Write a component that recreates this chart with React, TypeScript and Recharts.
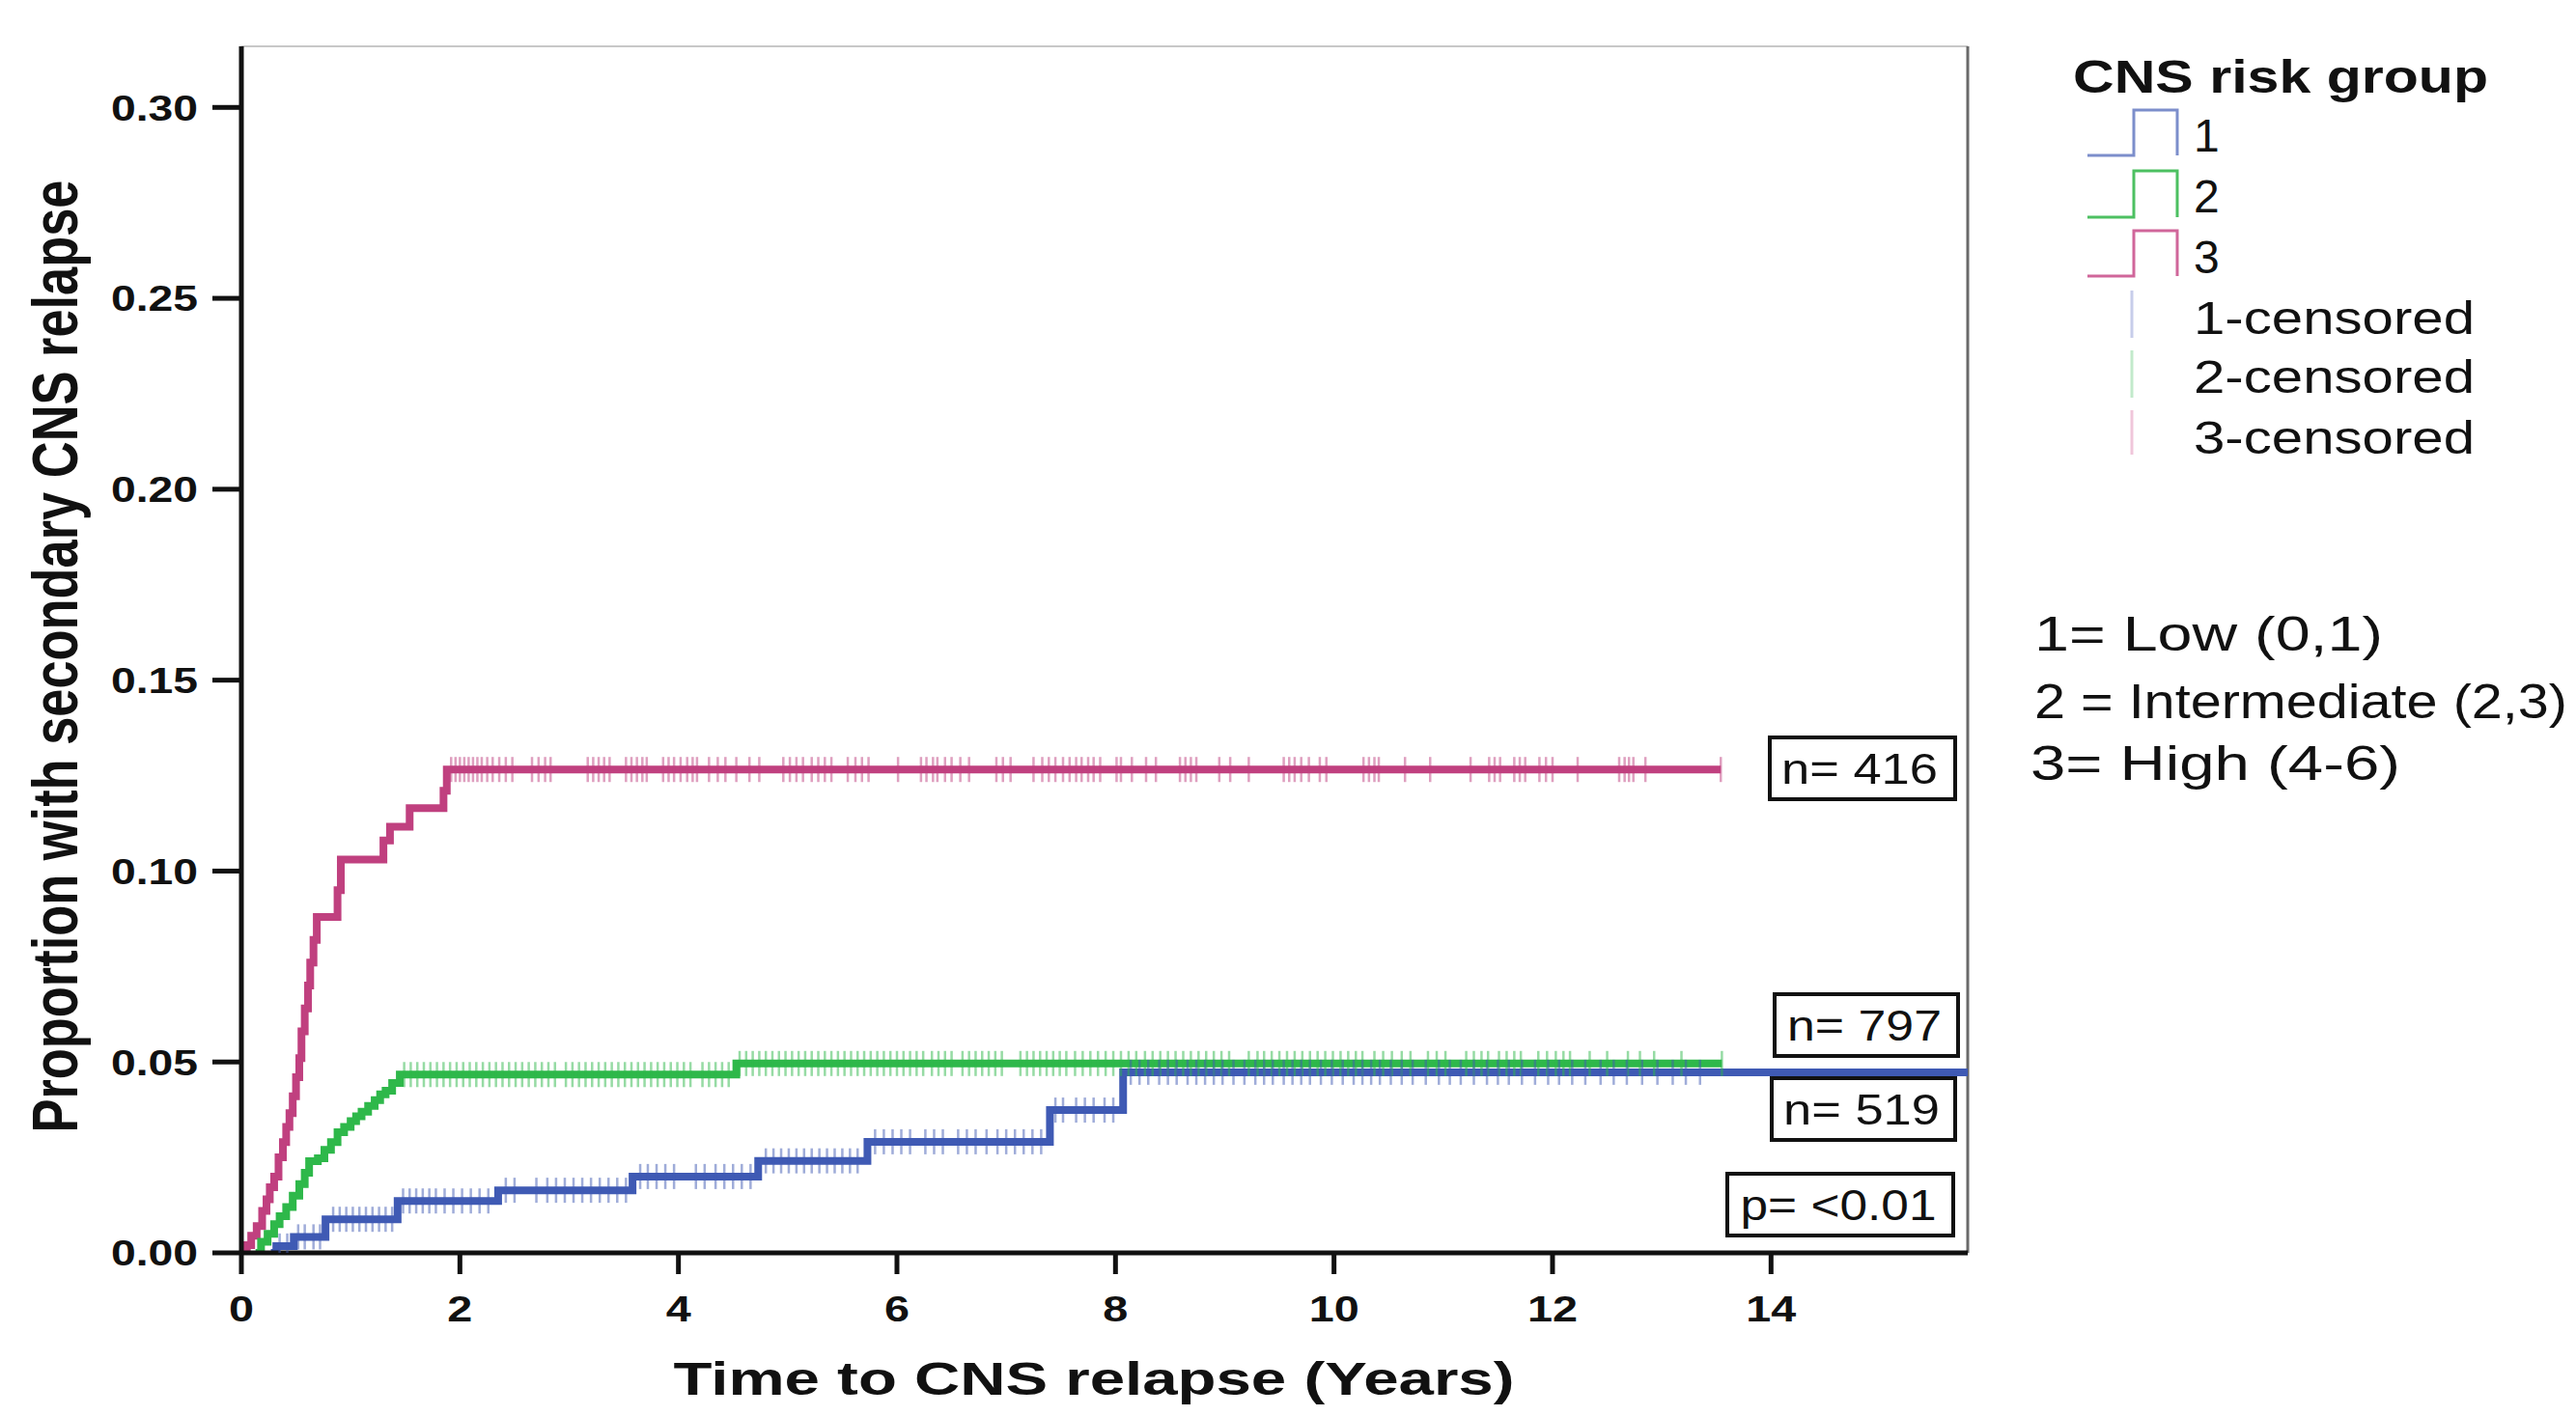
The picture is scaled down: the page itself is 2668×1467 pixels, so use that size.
import React from 'react';
import { ComposedChart, Line, Scatter, XAxis, YAxis, ReferenceLine } from 'recharts';

const W = 2668;
const H = 1467;
const FONT = "'Liberation Sans', Arial, Helvetica, sans-serif";

const X_MAX = 15.8;
const Y_MAX = 0.316;
const xTicks = [0, 2, 4, 6, 8, 10, 12, 14];
const yTicks = [0, 0.05, 0.1, 0.15, 0.2, 0.25, 0.3];

// group 1 = low (blue)
const lowTimes = [0.27, 0.32, 0.48, 0.77, 1.43, 2.35, 3.58, 4.73, 5.73, 7.4, 8.07, 15.8];
const lowValues = [0, 0.0018, 0.0042, 0.0088, 0.0136, 0.0164, 0.02, 0.0241, 0.0291, 0.0374, 0.0473, 0.0473];
const lowCensored = [
  0.35, 0.42, 0.52, 0.58, 0.66, 0.72, 0.84, 0.9, 0.96, 1.02, 1.08, 1.14, 1.2, 1.26, 1.32, 1.38,
  1.48, 1.54, 1.6, 1.66, 1.72, 1.78, 1.86, 1.94, 2.02, 2.1, 2.18, 2.26, 2.42, 2.5, 2.7, 2.8, 2.88,
  2.96, 3.04, 3.12, 3.2, 3.28, 3.36, 3.44, 3.52, 3.65, 3.72, 3.8, 3.88, 3.96, 4.16, 4.24, 4.34,
  4.42, 4.5, 4.58, 4.66, 4.8, 4.87, 4.94, 5.01, 5.08, 5.15, 5.22, 5.29, 5.36, 5.43, 5.5, 5.57,
  5.64, 5.8, 5.88, 5.96, 6.04, 6.12, 6.26, 6.34, 6.42, 6.56, 6.64, 6.72, 6.82, 6.92, 7.0, 7.08,
  7.16, 7.24, 7.32, 7.45, 7.52, 7.64, 7.72, 7.8, 7.9, 7.98, 8.14, 8.22, 8.3, 8.4, 8.48, 8.56,
  8.66, 8.74, 8.82, 8.9, 8.98, 9.08, 9.18, 9.28, 9.36, 9.44, 9.54, 9.62, 9.7, 9.78, 9.88, 9.98,
  10.08, 10.18, 10.26, 10.34, 10.42, 10.52, 10.62, 10.72, 10.84, 10.96, 11.06, 11.16, 11.28,
  11.4, 11.5, 11.6, 11.72, 11.84, 11.96, 12.06, 12.18, 12.3, 12.44, 12.56, 12.68, 12.82, 12.96,
  13.1, 13.22, 13.35,
];

// group 2 = intermediate (green)
const midTimes = [
  0.13, 0.18, 0.24, 0.3, 0.35, 0.41, 0.47, 0.53, 0.58, 0.62, 0.7, 0.76, 0.82, 0.88, 0.94, 1.0,
  1.05, 1.1, 1.16, 1.22, 1.27, 1.32, 1.38, 1.45, 4.53, 13.55,
];
const midValues = [
  0, 0.0029, 0.005, 0.0075, 0.0096, 0.012, 0.015, 0.018, 0.021, 0.024, 0.0248, 0.027, 0.029,
  0.0316, 0.033, 0.0345, 0.0358, 0.037, 0.0385, 0.04, 0.0415, 0.0425, 0.0445, 0.0467, 0.0496, 0.0496,
];
const midCensored = [
  1.49, 1.55, 1.61, 1.67, 1.73, 1.79, 1.85, 1.91, 1.97, 2.03, 2.09, 2.15, 2.21, 2.27, 2.33, 2.39,
  2.45, 2.51, 2.57, 2.63, 2.69, 2.75, 2.81, 2.87, 2.97, 3.03, 3.09, 3.15, 3.21, 3.27, 3.33, 3.39,
  3.45, 3.51, 3.57, 3.63, 3.69, 3.75, 3.81, 3.87, 3.93, 3.99, 4.05, 4.11, 4.22, 4.28, 4.34, 4.4,
  4.46, 4.56, 4.62, 4.68, 4.74, 4.8, 4.86, 4.92, 4.98, 5.04, 5.1, 5.16, 5.22, 5.28, 5.34, 5.4,
  5.46, 5.52, 5.58, 5.64, 5.7, 5.76, 5.82, 5.88, 5.94, 6.0, 6.06, 6.12, 6.18, 6.24, 6.32, 6.38,
  6.44, 6.5, 6.6, 6.66, 6.72, 6.78, 6.84, 6.9, 6.96, 7.13, 7.19, 7.25, 7.31, 7.37, 7.43, 7.49,
  7.55, 7.63, 7.7, 7.77, 7.84, 7.91, 7.98, 8.05, 8.12, 8.19, 8.27, 8.34, 8.41, 8.48, 8.55, 8.62,
  8.69, 8.76, 8.83, 8.9, 8.97, 9.04, 9.22, 9.3, 9.36, 9.43, 9.5, 9.57, 9.64, 9.71, 9.78, 9.85,
  9.92, 9.99, 10.06, 10.13, 10.2, 10.26, 10.37, 10.45, 10.53, 10.62, 10.7, 10.86, 10.94, 11.02,
  11.21, 11.28, 11.35, 11.41, 11.51, 11.58, 11.65, 11.71, 11.87, 11.95, 12.03, 12.1, 12.16,
  12.34, 12.5, 12.69, 12.8, 12.93, 13.18, 13.55,
];

// group 3 = high (magenta)
const highTimes = [
  0, 0.05, 0.09, 0.14, 0.19, 0.23, 0.26, 0.3, 0.34, 0.38, 0.41, 0.44, 0.47, 0.5, 0.53, 0.55,
  0.58, 0.61, 0.63, 0.66, 0.69, 0.88, 0.91, 1.3, 1.36, 1.54, 1.85, 1.88, 13.54,
];
const highValues = [
  0, 0.002, 0.0045, 0.007, 0.011, 0.014, 0.0172, 0.02, 0.025, 0.029, 0.033, 0.0366, 0.041, 0.046,
  0.051, 0.058, 0.064, 0.07, 0.076, 0.082, 0.088, 0.095, 0.103, 0.108, 0.1116, 0.1165, 0.121,
  0.1266, 0.1266,
];
const highCensored = [
  1.92, 1.96, 2.0, 2.04, 2.08, 2.12, 2.16, 2.2, 2.25, 2.3, 2.36, 2.42, 2.48, 2.66, 2.72, 2.78,
  2.83, 3.17, 3.22, 3.27, 3.32, 3.37, 3.52, 3.57, 3.62, 3.67, 3.71, 3.86, 3.91, 3.96, 4.02, 4.08,
  4.13, 4.17, 4.28, 4.36, 4.43, 4.53, 4.65, 4.74, 4.96, 5.02, 5.08, 5.14, 5.22, 5.28, 5.34, 5.4,
  5.55, 5.62, 5.68, 5.74, 6.01, 6.22, 6.27, 6.33, 6.37, 6.44, 6.5, 6.58, 6.66, 6.91, 6.97, 7.04,
  7.25, 7.33, 7.39, 7.45, 7.52, 7.58, 7.64, 7.69, 7.75, 7.8, 7.86, 8.01, 8.05, 8.15, 8.28, 8.37,
  8.59, 8.64, 8.69, 8.74, 8.95, 9.05, 9.22, 9.54, 9.59, 9.64, 9.7, 9.77, 9.87, 9.93, 10.27,
  10.32, 10.37, 10.41, 10.65, 10.88, 11.25, 11.42, 11.47, 11.52, 11.65, 11.7, 11.75, 11.88,
  11.94, 12.0, 12.23, 12.61, 12.66, 12.7, 12.74, 12.85, 13.54,
];

const BLUE = '#3f5ab4';
const GREEN = '#2eb84a';
const PINK = '#c0407f';

const toCurve = (times: number[], values: number[]) => times.map((t, i) => ({ t, v: values[i] }));

// value of the step curve at a censoring time
const atTime = (times: number[], values: number[], c: number) => {
  let v = values[0];
  for (let i = 0; i < times.length; i++) if (times[i] <= c) v = values[i];
  return v;
};
const toCensor = (cens: number[], times: number[], values: number[]) =>
  cens.map((c) => ({ t: c, v: atTime(times, values, c) }));

const lowCurve = toCurve(lowTimes, lowValues);
const midCurve = toCurve(midTimes, midValues);
const highCurve = toCurve(highTimes, highValues);
const lowCens = toCensor(lowCensored, lowTimes, lowValues);
const midCens = toCensor(midCensored, midTimes, midValues);
const highCens = toCensor(highCensored, highTimes, highValues);

const censorShape = (color: string) => (props: any) => {
  const { cx, cy } = props;
  if (cx == null || cy == null) return <g />;
  return <line x1={cx} x2={cx} y1={cy - 13} y2={cy + 13} stroke={color} strokeOpacity={0.5} strokeWidth={2.5} />;
};

const YTick = ({ x, y, payload }: any) => (
  <text x={x} y={y} dy="0.36em" textAnchor="end" fontSize={37} fontWeight={700} fontFamily={FONT}
    fill="#111" textLength={90} lengthAdjust="spacingAndGlyphs">
    {Number(payload.value).toFixed(2)}
  </text>
);

const XTick = ({ x, y, payload }: any) => {
  const s = String(payload.value);
  return (
    <text x={x} y={y + 47} textAnchor="middle" fontSize={37} fontWeight={700} fontFamily={FONT}
      fill="#111" textLength={26 * s.length} lengthAdjust="spacingAndGlyphs">
      {s}
    </text>
  );
};

const T = ({ x, y, w, size, bold, anchor = 'start', children }: any) => (
  <text x={x} y={y} fontSize={size} fontWeight={bold ? 700 : 400} textAnchor={anchor} fontFamily={FONT}
    fill="#111" textLength={w} lengthAdjust={w ? 'spacingAndGlyphs' : undefined}>
    {children}
  </text>
);

const Box = ({ x, y, w, h, tw, cx, children }: any) => (
  <g>
    <rect x={x} y={y} width={w} height={h} fill="#fff" stroke="#111" strokeWidth={4} />
    <T x={cx} y={y + h / 2 + 16} w={tw} size={44} anchor="middle">{children}</T>
  </g>
);

const App = () => {
  return (
    <div style={{ position: 'absolute', left: 0, top: 0, width: W, height: H, background: '#fff' }}>
      <ComposedChart width={W} height={H} margin={{ top: 48, right: 630, bottom: 49, left: 100 }}>
        <XAxis dataKey="t" type="number" domain={[0, X_MAX]} ticks={xTicks} height={120}
          axisLine={{ stroke: '#111', strokeWidth: 5 }} tickLine={{ stroke: '#111', strokeWidth: 5 }}
          tickSize={22} tick={<XTick />} allowDataOverflow />
        <YAxis dataKey="v" type="number" domain={[0, Y_MAX]} ticks={yTicks} width={150}
          axisLine={{ stroke: '#111', strokeWidth: 5 }} tickLine={{ stroke: '#111', strokeWidth: 5 }}
          tickSize={30} tickMargin={15} tick={<YTick />} allowDataOverflow />
        <ReferenceLine y={Y_MAX} stroke="#c8c8c8" strokeWidth={2} />
        <ReferenceLine x={X_MAX} stroke="#6a6a6a" strokeWidth={3} />
        <Line data={highCurve} dataKey="v" type="stepAfter" stroke={PINK} strokeWidth={8} dot={false}
          isAnimationActive={false} />
        <Line data={midCurve} dataKey="v" type="stepAfter" stroke={GREEN} strokeWidth={8} dot={false}
          isAnimationActive={false} />
        <Line data={lowCurve} dataKey="v" type="stepAfter" stroke={BLUE} strokeWidth={8} dot={false}
          isAnimationActive={false} />
        <Scatter data={highCens} dataKey="v" shape={censorShape(PINK)} isAnimationActive={false} />
        <Scatter data={midCens} dataKey="v" shape={censorShape(GREEN)} isAnimationActive={false} />
        <Scatter data={lowCens} dataKey="v" shape={censorShape(BLUE)} isAnimationActive={false} />
      </ComposedChart>

      <svg width={W} height={H} style={{ position: 'absolute', left: 0, top: 0, pointerEvents: 'none' }}>
        {/* axis titles */}
        <text transform="translate(80,680) scale(1.27,1) rotate(-90)" x={0} y={0} textAnchor="middle"
          fontSize={52} fontWeight={700} fontFamily={FONT} fill="#111" textLength={987}
          lengthAdjust="spacingAndGlyphs">
          Proportion with secondary CNS relapse
        </text>
        <T x={1133} y={1445} w={871} size={48} bold anchor="middle">Time to CNS relapse (Years)</T>

        {/* annotation boxes */}
        <Box x={1833} y={764} w={192} h={64} tw={162} cx={1926}>n= 416</Box>
        <Box x={1838} y={1030} w={190} h={64} tw={160} cx={1931}>n= 797</Box>
        <Box x={1835} y={1117} w={190} h={64} tw={162} cx={1928}>n= 519</Box>
        <Box x={1789} y={1216} w={234} h={64} tw={203} cx={1904}>p= &lt;0.01</Box>

        {/* legend */}
        <T x={2147} y={96} w={430} size={48} bold>CNS risk group</T>
        <path d="M2162 161 H2210 V114 H2255 V161" fill="none" stroke="#7c8ecb" strokeWidth={3} />
        <path d="M2162 225 H2210 V177 H2255 V225" fill="none" stroke="#4cc061" strokeWidth={3} />
        <path d="M2162 286 H2210 V239 H2255 V286" fill="none" stroke="#d0669a" strokeWidth={3} />
        <T x={2272} y={157} size={48}>1</T>
        <T x={2272} y={220} size={48}>2</T>
        <T x={2272} y={283} size={48}>3</T>
        <line x1={2208} x2={2208} y1={301} y2={350} stroke="#c7cdea" strokeWidth={3} />
        <line x1={2208} x2={2208} y1={363} y2={412} stroke="#c2eacb" strokeWidth={3} />
        <line x1={2208} x2={2208} y1={425} y2={471} stroke="#f0c6da" strokeWidth={3} />
        <T x={2272} y={346} w={291} size={48}>1-censored</T>
        <T x={2272} y={407} w={291} size={48}>2-censored</T>
        <T x={2272} y={470} w={291} size={48}>3-censored</T>

        <T x={2107} y={674} w={361} size={50}>1= Low (0,1)</T>
        <T x={2107} y={744} w={552} size={50}>2 = Intermediate (2,3)</T>
        <T x={2103} y={808} w={383} size={50}>3= High (4-6)</T>
      </svg>
    </div>
  );
};

export default App;
